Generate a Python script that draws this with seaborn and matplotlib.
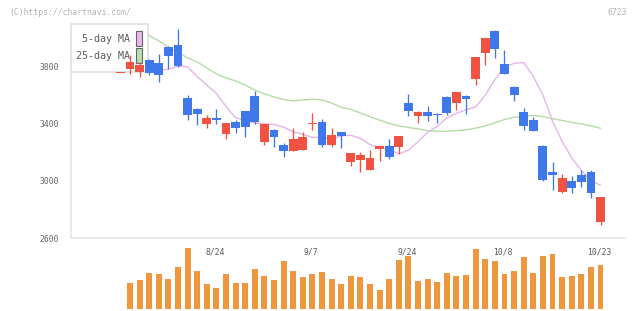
import numpy as np
import pandas as pd
import matplotlib
matplotlib.use("Agg")
import matplotlib.pyplot as plt
import matplotlib.transforms as mtrans
from matplotlib.patches import Rectangle
import seaborn as sns

# ---------------- data ----------------
open_ = [3757, 3782, 3761, 3843, 3822, 3933, 3947, 3578, 3501, 3399,
         3438, 3329, 3410, 3487, 3592, 3273, 3355, 3250, 3210, 3217,
         3401, 3410, 3252, 3341, 3134, 3148, 3078, 3222, 3243, 3238,
         3543, 3452, 3480, 3464, 3585, 3543, 3592, 3710, 3891, 4045,
         3815, 3654, 3480, 3424, 3243, 3062, 2923, 2999, 3041, 3062,
         2714]
high_ = [3757, 3877, 3829, 3847, 3884, 3940, 4059, 3597, 3508, 3459,
         3501, 3403, 3424, 3487, 3627, 3399, 3364, 3264, 3369, 3343,
         3475, 3431, 3369, 3341, 3194, 3201, 3215, 3243, 3292, 3313,
         3606, 3489, 3522, 3473, 3592, 3620, 3599, 3863, 3996, 4052,
         3912, 3661, 3508, 3445, 3250, 3132, 3048, 3034, 3076, 3076,
         2888]
low_ = [3757, 3743, 3726, 3738, 3691, 3778, 3796, 3427, 3392, 3371,
        3399, 3289, 3336, 3308, 3399, 3252, 3238, 3169, 3210, 3217,
        3355, 3238, 3238, 3231, 3106, 3064, 3078, 3141, 3155, 3190,
        3452, 3405, 3417, 3403, 3459, 3494, 3466, 3668, 3808, 3856,
        3745, 3557, 3355, 3348, 2999, 2937, 2916, 2916, 2958, 2881,
        2693]
close_ = [3757, 3829, 3806, 3754, 3738, 3873, 3803, 3461, 3468, 3438,
          3427, 3403, 3371, 3378, 3413, 3399, 3308, 3210, 3292, 3306,
          3401, 3252, 3320, 3313, 3194, 3181, 3160, 3243, 3169, 3313,
          3487, 3480, 3452, 3457, 3473, 3620, 3571, 3863, 3996, 3919,
          3745, 3599, 3383, 3348, 3006, 3043, 3020, 2951, 2992, 2916,
          2888]
nan = np.nan
ma5 = [nan, nan, nan, nan, 3770, 3777, 3800, 3795, 3726, 3669,
       3609, 3519, 3439, 3421, 3403, 3398, 3393, 3374, 3342, 3324,
       3303, 3303, 3292, 3314, 3318, 3296, 3252, 3234, 3218, 3189,
       3213, 3274, 3338, 3380, 3438, 3470, 3496, 3515, 3597, 3705,
       3794, 3819, 3824, 3728, 3599, 3416, 3276, 3160, 3074, 3002,
       2970]
ma25 = [nan, nan, 4052, 4013, 3975, 3933, 3895, 3857, 3829, 3787,
        3745, 3717, 3696, 3668, 3633, 3606, 3585, 3567, 3557, 3564,
        3569, 3564, 3543, 3512, 3498, 3473, 3447, 3424, 3400, 3383,
        3372, 3362, 3350, 3346, 3346, 3350, 3355, 3367, 3383, 3404,
        3428, 3443, 3449, 3457, 3447, 3433, 3421, 3408, 3397, 3383,
        3367]
volume = [0, 263, 290, 363, 353, 303, 423, 613, 383, 253,
          213, 353, 263, 263, 403, 333, 293, 483, 383, 323,
          353, 373, 303, 253, 330, 320, 253, 190, 300, 490,
          530, 280, 300, 270, 360, 330, 340, 600, 500, 480,
          353, 380, 520, 360, 533, 550, 320, 330, 353, 420,
          443]
date_labels = ["8/24", "9/7", "9/24", "10/8", "10/23"]
date_pos = [10, 20, 30, 40, 50]
y_ticks = [2600, 3000, 3400, 3800]
legend_labels = ["5-day MA", "25-day MA"]

# ---------------- style ----------------
RED = "#f25241"
BLUE = "#3f78ec"
ORANGE = "#f0963f"
PINK = "#e6b4ec"
GREEN = "#b5dba8"
AXC = "#e2e2e2"
TXT = "#5a5a5a"

sns.set_style("white")
plt.rcParams["font.family"] = ["DejaVu Sans Mono", "DejaVu Sans"]

W, H = 640, 311
fig = plt.figure(figsize=(W / 100, H / 100), dpi=100)
pix = mtrans.Affine2D().scale(1 / W, -1 / H).translate(0, 1) + fig.transFigure


def frac(x0, y0, x1, y1):
    return [x0 / W, 1 - y1 / H, (x1 - x0) / W, (y1 - y0) / H]


ax = fig.add_axes(frac(70.5, 24, 625.3, 238.3))
axv = fig.add_axes(frac(70.5, 245, 625.3, 309))

o = np.array(open_, float)
h = np.array(high_, float)
l = np.array(low_, float)
c = np.array(close_, float)
idx = np.arange(len(c))
xmin, xmax = -5.19, 52.58

df = pd.DataFrame({"i": idx, "ma5": ma5, "ma25": ma25, "vol": volume})

# moving averages (under the legend box and the candles)
sns.lineplot(data=df, x="i", y="ma25", ax=ax, color=GREEN, lw=1.0, zorder=2)
sns.lineplot(data=df, x="i", y="ma5", ax=ax, color=PINK, lw=1.0, zorder=2)

# candles
cols = np.where(c >= o, RED, BLUE)
ax.vlines(idx, l, h, colors=cols, lw=0.95, zorder=3)
bh = np.abs(c - o)
minh = 9.0
lo = np.minimum(o, c) - np.where(bh < minh, (minh - bh) / 2, 0)
ax.bar(idx, np.maximum(bh, minh), bottom=lo, width=0.92, color=cols,
       linewidth=0, zorder=4)

ax.set_xlim(xmin, xmax)
ax.set_ylim(2600, 4093)
ax.set_xticks(np.linspace(xmin, xmax, 11))
ax.set_xticklabels([])
ax.set_yticks(y_ticks)
ax.set_yticklabels([str(v) for v in y_ticks], fontsize=5.8, color="#666666")
ax.tick_params(axis="x", length=4.3, width=1.1, color=AXC, direction="out")
ax.tick_params(axis="y", length=3.6, width=1.1, color=AXC, pad=4.5,
               direction="out")
for s in ("top", "right"):
    ax.spines[s].set_visible(False)
for s in ("left", "bottom"):
    ax.spines[s].set_color(AXC)
    ax.spines[s].set_linewidth(1.1)
ax.set_xlabel("")
ax.set_ylabel("")
ax.grid(False)

# legend box: above the MA lines, below the candles
ax.add_patch(Rectangle((70.5, 24), 77.8, 47.7, transform=pix, fc="white",
                       ec="#dddddd", lw=1.1, zorder=2.5, clip_on=False))
ax.text(129.5, 39.5, legend_labels[0], transform=pix, ha="right",
        va="center", fontsize=7.2, color=TXT, zorder=2.6)
ax.text(129.5, 56.2, legend_labels[1], transform=pix, ha="right",
        va="center", fontsize=7.2, color=TXT, zorder=2.6)
ax.add_patch(Rectangle((136.3, 31), 6, 15, transform=pix, fc="#ebb8ee",
                       ec="#666666", lw=0.8, zorder=2.6, clip_on=False))
ax.add_patch(Rectangle((136.3, 48), 6, 15, transform=pix, fc="#bcdcb2",
                       ec="#666666", lw=0.8, zorder=2.6, clip_on=False))
ax.set_xlim(xmin, xmax)
ax.set_ylim(2600, 4093)

# volume
sns.barplot(data=df, x="i", y="vol", native_scale=True, ax=axv, color=ORANGE,
            saturation=1, width=0.62, errorbar=None, linewidth=0)
axv.set_xlim(xmin, xmax)
axv.set_ylim(0, 640)
axv.axis("off")

# date labels
trans = mtrans.blended_transform_factory(ax.transData, fig.transFigure)
for k, lab in zip(date_pos, date_labels):
    fig.text(k - 0.15, 1 - 252.3 / H, lab, transform=trans, ha="center",
             va="center", fontsize=5.8, color=TXT)

# header
fig.text(9 / W, 1 - 12.5 / H, "(C)https://chartnavi.com/", fontsize=5.8,
         color="#b4b4b4", va="center", ha="left")
fig.text(627 / W, 1 - 12.5 / H, "6723", fontsize=5.8, color="#b4b4b4",
         va="center", ha="right")

fig.savefig("out.png", dpi=100)
